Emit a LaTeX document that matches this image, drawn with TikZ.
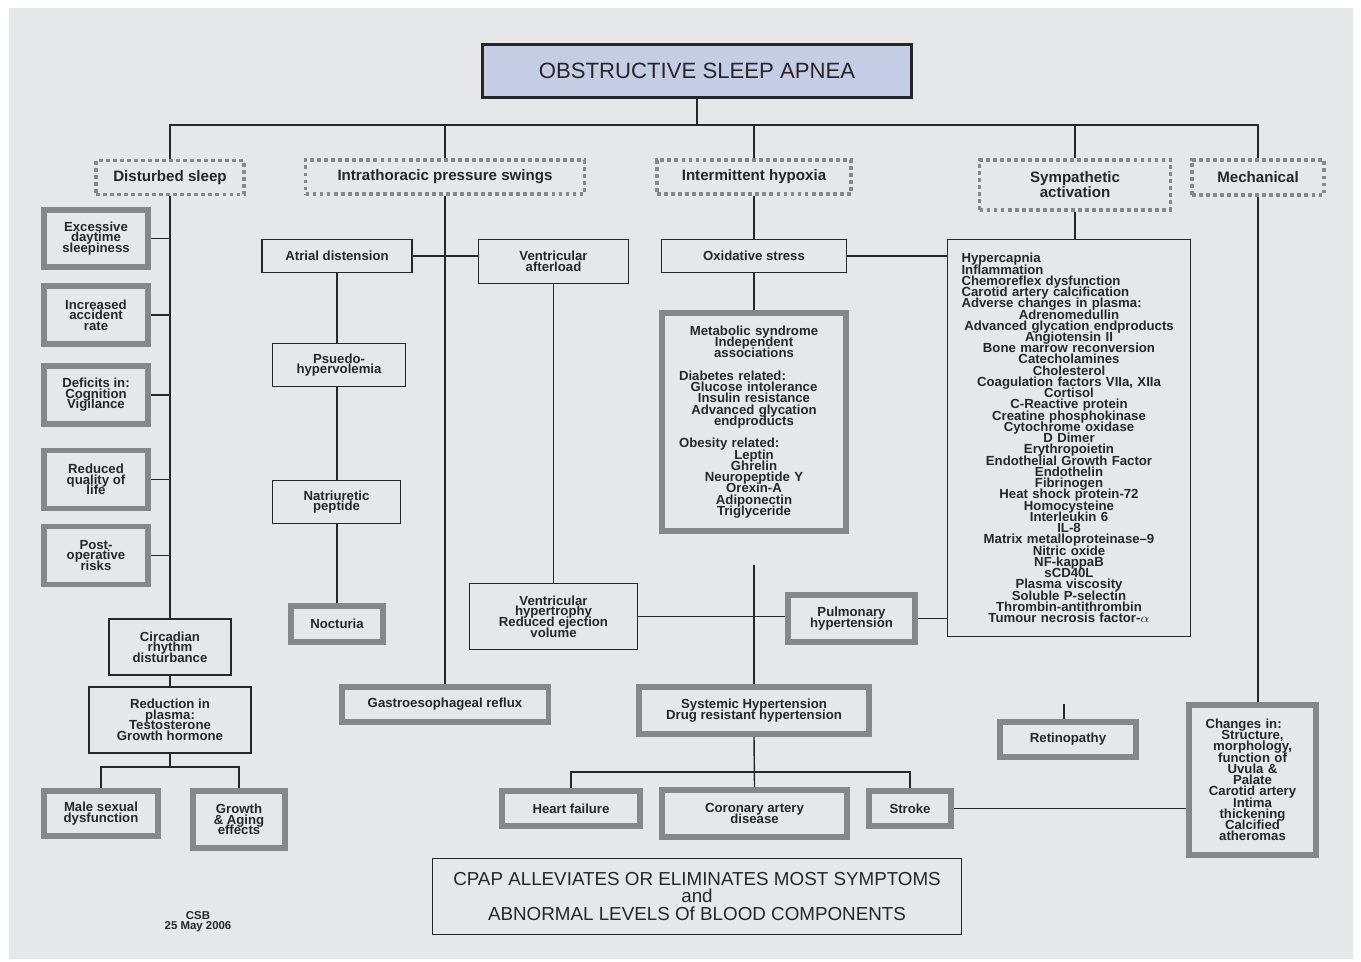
\documentclass[tikz,border=0pt]{standalone}
\usepackage{fontspec}
\setmainfont{Liberation Sans}
\definecolor{sheet}{RGB}{230,231,233}
\definecolor{framegray}{RGB}{135,135,135}
\definecolor{ink}{RGB}{38,38,38}
\definecolor{headfill}{RGB}{197,204,230}
\newcommand{\boxtext}{\bfseries\fontsize{7.5}{6}\selectfont\lineskiplimit-20pt\parindent0pt}
\newcommand{\listtext}{\bfseries\fontsize{7.5}{6.4}\selectfont\lineskiplimit-20pt\parindent0pt}
\newcommand{\lft}[1]{\makebox[\hsize][l]{#1}}

\begin{document}
\begin{tikzpicture}[x=0.02cm,y=-0.02cm,
    every node/.style={inner sep=0pt,align=center,text=ink},
    wire/.style={draw=ink,line width=0.8pt},
    plainbox/.style={draw=ink,line width=0.8pt,font=\boxtext},
    heavybox/.style={draw=framegray,line width=3.4pt,font=\boxtext},
    groupbox/.style={draw=framegray,line width=2.1pt,dash pattern=on 2.2pt off 1.8pt,
                     font={\bfseries\fontsize{8.6}{8.6}\selectfont\lineskiplimit-20pt}}]

 % sheet
 \useasboundingbox (0,0) rectangle (1361,962);
 \fill[sheet] (9,8) rectangle (1353,959);

 \node[draw=black!85,line width=1.7pt,fill=headfill,minimum width=8.58cm,minimum height=1.06cm,
       font={\fontsize{12.6}{14}\selectfont}] (osa) at (697,71) {OBSTRUCTIVE SLEEP APNEA};

 % groups
 \node[groupbox,minimum width=2.96cm,minimum height=0.68cm] (dist)  at (170,177.5) {Disturbed sleep};
 \node[groupbox,minimum width=5.58cm,minimum height=0.68cm] (intra) at (445,177)   {Intrathoracic pressure swings};
 \node[groupbox,minimum width=3.88cm,minimum height=0.68cm] (hypox) at (754,177)   {Intermittent hypoxia};
 \node[groupbox,minimum width=3.82cm,minimum height=1.0cm]  (symp)  at (1075,185)  {Sympathetic\\activation};
 \node[groupbox,minimum width=2.64cm,minimum height=0.7cm]  (mech)  at (1258,177.5) {Mechanical};

 % disturbed sleep
 \node[heavybox,minimum width=2.08cm,minimum height=1.14cm] (sleepy) at (96,238.5) {Excessive\\daytime\\sleepiness};
 \node[heavybox,minimum width=2.08cm,minimum height=1.16cm] (accid)  at (96,315)   {Increased\\accident\\rate};
 \node[heavybox,minimum width=2.08cm,minimum height=1.16cm] (cogn)   at (96,395)   {Deficits in:\\Cognition\\Vigilance};
 \node[heavybox,minimum width=2.08cm,minimum height=1.16cm] (qlife)  at (96,479.5) {Reduced\\quality of\\life};
 \node[heavybox,minimum width=2.08cm,minimum height=1.16cm] (postop) at (96,555.5) {Post-\\operative\\risks};
 \node[plainbox,minimum width=2.44cm,minimum height=1.12cm] (circ)   at (170,647)  {Circadian\\rhythm\\disturbance};
 \node[plainbox,minimum width=3.24cm,minimum height=1.32cm] (plasma) at (170,720)  {Reduction in\\plasma:\\Testosterone\\Growth hormone};
 \node[heavybox,minimum width=2.28cm,minimum height=0.9cm]  (sexual) at (101,813.5) {Male sexual\\dysfunction};
 \node[heavybox,minimum width=1.84cm,minimum height=1.14cm] (aging)  at (239,819.5) {Growth\\\& Aging\\effects};

 % pressure swings
 \node[plainbox,minimum width=3.0cm,minimum height=0.66cm]  (atrial) at (337,256)   {Atrial distension};
 \node[plainbox,minimum width=3.0cm,minimum height=0.88cm]  (afterl) at (553.5,261.5) {Ventricular\\afterload};
 \node[plainbox,minimum width=2.66cm,minimum height=0.86cm] (pseudo) at (339,365)   {Psuedo-\\hypervolemia};
 \node[plainbox,minimum width=2.56cm,minimum height=0.86cm] (natri)  at (336.5,502) {Natriuretic\\peptide};
 \node[heavybox,minimum width=1.84cm,minimum height=0.72cm] (noct)   at (337,624)   {Nocturia};
 \node[plainbox,minimum width=3.36cm,minimum height=1.32cm] (vhyp)   at (553.5,616.5) {Ventricular\\hypertrophy\\Reduced ejection\\volume};
 \node[heavybox,minimum width=4.14cm,minimum height=0.7cm]  (reflux) at (445,704.5) {Gastroesophageal reflux};

 % hypoxia
 \node[plainbox,minimum width=3.7cm,minimum height=0.66cm] (oxid) at (754,256) {Oxidative stress};
 \node[heavybox,font=\listtext,text width=3.0cm,minimum width=3.68cm,minimum height=4.36cm] (metab) at (754,422)
   {Metabolic syndrome\\Independent\\associations\\\mbox{}\\\lft{Diabetes related:}\\Glucose intolerance\\Insulin resistance\\
    Advanced glycation\\endproducts\\\mbox{}\\\lft{Obesity related:}\\Leptin\\Ghrelin\\Neuropeptide Y\\Orexin-A\\
    Adiponectin\\Triglyceride};
 \node[heavybox,minimum width=2.54cm,minimum height=0.94cm] (pulm)   at (851.5,618.5) {Pulmonary\\hypertension};
 \node[heavybox,minimum width=4.6cm,minimum height=0.94cm]  (syst)   at (754,710.5)   {Systemic Hypertension\\Drug resistant hypertension};
 \node[heavybox,minimum width=2.76cm,minimum height=0.7cm]  (heartf) at (571,808.5)   {Heart failure};
 \node[heavybox,minimum width=3.7cm,minimum height=0.94cm]  (coron)  at (754.5,813.5) {Coronary artery\\disease};
 \node[heavybox,minimum width=1.64cm,minimum height=0.7cm]  (stroke) at (910,808.5)   {Stroke};

 % sympathetic
 \node[plainbox,font=\listtext,text width=4.3cm,minimum width=4.86cm,minimum height=7.94cm] (blood) at (1069,438)
   {\lft{Hypercapnia}\\\lft{Inflammation}\\\lft{Chemoreflex dysfunction}\\\lft{Carotid artery calcification}\\
    \lft{Adverse changes in plasma:}\\Adrenomedullin\\Advanced glycation endproducts\\Angiotensin II\\
    Bone marrow reconversion\\Catecholamines\\Cholesterol\\Coagulation factors VIIa, XIIa\\Cortisol\\
    C-Reactive protein\\Creatine phosphokinase\\Cytochrome oxidase\\D Dimer\\Erythropoietin\\
    Endothelial Growth Factor\\Endothelin\\Fibrinogen\\Heat shock protein-72\\Homocysteine\\
    Interleukin 6\\IL-8\\Matrix metalloproteinase–9\\Nitric oxide\\NF-kappaB\\sCD40L\\Plasma viscosity\\
    Soluble P-selectin\\Thrombin-antithrombin\\Tumour necrosis factor-$\alpha$};
 \node[heavybox,minimum width=2.72cm,minimum height=0.7cm] (retina) at (1068,739.5) {Retinopathy};

 % mechanical
 \node[heavybox,font=\listtext,text width=1.88cm,minimum width=2.54cm,minimum height=3.0cm] (struct) at (1252.5,780)
   {\lft{Changes in:}\\Structure,\\morphology,\\function of\\Uvula \&\\Palate\\Carotid artery\\Intima\\
    thickening\\Calcified\\atheromas};

 \node[plainbox,font={\fontsize{10.7}{10.2}\selectfont\lineskiplimit-20pt},minimum width=10.58cm,minimum height=1.52cm] (cpap) at (697,896.5)
   {CPAP ALLEVIATES OR ELIMINATES MOST SYMPTOMS\\and\\ABNORMAL LEVELS Of BLOOD COMPONENTS};
 \node[font={\bfseries\fontsize{6.5}{5.7}\selectfont\lineskiplimit-20pt}] (sign) at (198,922) {CSB\\25 May 2006};

 % connectors
 \coordinate (bus) at (697,125);
 \draw[wire] (osa.south) -- (bus);
 \draw[wire] (dist.north) |- (bus) -| (mech.north);
 \foreach \g in {intra,hypox,symp} \draw[wire] (\g.north) -- (\g.north |- bus);

 \draw[wire] (dist.south) -- (circ.north);
 \foreach \b in {sleepy,accid,cogn,qlife,postop} \draw[wire] (\b.east) -- (\b.east -| dist.south);
 \draw[wire] (circ.south) -- (circ.south |- plasma.north);
 \coordinate (pbus) at (170,767);
 \draw[wire] (plasma.south) -- (pbus);
 \draw[wire] (sexual.north) |- (pbus) -| (aging.north);

 \draw[wire] (intra.south) -- (reflux.north);
 \draw[wire] (atrial.east) -- (atrial.east -| afterl.west);
 \draw[wire] (atrial.south) -- (atrial.south |- pseudo.north);
 \draw[wire] (atrial.south |- pseudo.south) -- (atrial.south |- natri.north);
 \draw[wire] (atrial.south |- natri.south) -- (atrial.south |- noct.north);
 \draw[wire] (afterl.south) -- (afterl.south |- vhyp.north);

 \draw[wire] (hypox.south) -- (oxid.north);
 \draw[wire] (oxid.south) -- (metab.north);
 \draw[wire] (oxid.east) -- (oxid.east -| blood.west);
 \coordinate (htop) at (754,565);
 \draw[wire] (htop) -- (syst.north);
 \draw[wire] (vhyp.east) -- (vhyp.east -| pulm.west);
 \draw[wire] (pulm.east) -- (pulm.east -| blood.west);
 \coordinate (sbus) at (754,772);
 \draw[wire] (syst.south) -- (coron.north);
 \draw[wire] (heartf.north) |- (sbus) -| (stroke.north);
 \draw[wire] (stroke.east) -- (stroke.east -| struct.west);

 \draw[wire] (symp.south) -- (symp.south |- blood.north);
 \draw[wire] (mech.south) -- (mech.south |- struct.north);
 \coordinate (rtop) at (1064,704);
 \draw[wire] (rtop) -- (rtop |- retina.north);

\end{tikzpicture}
\end{document}
